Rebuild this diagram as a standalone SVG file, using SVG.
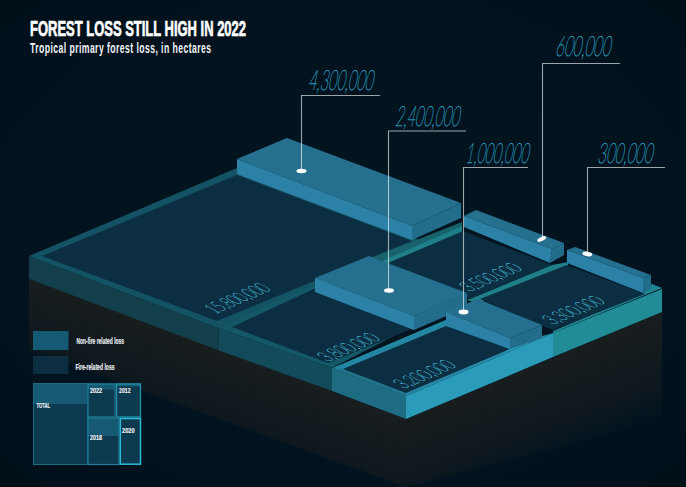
<svg xmlns="http://www.w3.org/2000/svg" width="686" height="487" viewBox="0 0 686 487">
<style>
text{font-family:"Liberation Sans Narrow","Liberation Sans",Arial,sans-serif}
.title{font-size:21.500px;font-weight:700;fill:#fff;stroke:#fff;stroke-width:.7}
.sub{font-size:14px;font-weight:700;fill:#f2f4f5}
.val{font-family:Lato,"Open Sans",sans-serif;font-weight:100;font-size:28px;fill:#2ba6c6;stroke:#2ba6c6;stroke-width:.55}
.plane{font-family:Lato,"Open Sans",sans-serif;font-weight:100;font-size:21px;fill:#46b8d0;stroke:#46b8d0;stroke-width:.42}
.leg{font-size:9px;font-weight:700;fill:#e8ecee;stroke:#e8ecee;stroke-width:.2}
.tm{font-size:8px;font-weight:700;fill:#f2f5f6;stroke:#f2f5f6;stroke-width:.15}
.panel{fill:#0c2e42}
.ftop{fill:#256f8f}.ffront{fill:#2c82a6}.fright{fill:#226c8c}
.lead{fill:none;stroke:#fff;stroke-opacity:.62;stroke-width:1.1}
.dot{fill:#fff}
.cellb{fill:#0e3a50}.cellt{fill:#155a72}
</style>
<defs>
<radialGradient id="bg" cx="50%" cy="50%" r="70%"><stop offset="0" stop-color="#03151f"/><stop offset=".7" stop-color="#02131f"/><stop offset="1" stop-color="#010f18"/></radialGradient>
<linearGradient id="shL" gradientUnits="userSpaceOnUse" x1="218" y1="350" x2="180" y2="450"><stop offset="0" stop-color="#181d1f"/><stop offset=".55" stop-color="#0e181e"/><stop offset="1" stop-color="#02131f" stop-opacity="0"/></linearGradient>
<linearGradient id="shR" gradientUnits="userSpaceOnUse" x1="534" y1="365" x2="575" y2="470"><stop offset="0" stop-color="#181d1f"/><stop offset=".55" stop-color="#0e181e"/><stop offset="1" stop-color="#02131f" stop-opacity="0"/></linearGradient>
</defs>
<rect width="686" height="487" fill="url(#bg)"/>
<g id="shadow">
<polygon points="29,279 406,419 406,487 29,350" fill="url(#shL)"/>
<polygon points="406,419 662,312 662,420 406,487" fill="url(#shR)"/>
</g>
<g id="base-sides">
<polygon points="29,256 218,328 218,350 29,279" fill="#123f4a"/>
<polygon points="218,328 332,368 332,391 218,350" fill="#134b5a"/>
<polygon points="332,368 406,396 406,419 332,391" fill="#1e6c81"/>
<polygon points="406,396 553,333 553,357 406,419" fill="#2a9cba"/>
<polygon points="553,333 662,289 662,312 553,357" fill="#218c96"/>
<line x1="218.500" y1="328" x2="218.500" y2="350" stroke="#0e3a45" stroke-width="1"/>
</g>
<g id="base-top">
<polygon points="29,256 237,168 420,240 218,328" fill="#135363"/>
<polygon points="218,328 372,257 467,298 332,368" fill="#145868"/>
<polygon points="373,257 462,222 462,232 388,264" fill="#17626c"/>
<polygon points="380,262 462,226 462,232 388,264" fill="#1f7f88"/>
<polygon points="333,368 446,320 510,345 553,333 406,396" fill="#2789a7"/>
<polygon points="333,368 446,320 446,326 343,369" fill="#2387a4"/>
<polygon points="332,368 343,369 406,393 406,396" fill="#20748a"/>
<polygon points="510,349 542,338 553,333 500,355" fill="#2a9cba"/>
<polygon points="553,331 643,293 652,284 662,288 553,333" fill="#1f8490"/>
<polygon points="467,300 552,265 568,262 568,266 486,298 480,304" fill="#1f7f88"/>
</g>
<g id="panel-15800000"><polygon class="panel" points="42,256 237,175 412,241 370,258 217,321"/></g>
<g id="panel-3800000"><polygon class="panel" points="232,327 372,262 430,320 412,329 328,363"/></g>
<g id="panel-3500000"><polygon class="panel" points="388,263 463,231 552,265 470,299"/></g>
<g id="panel-3200000"><polygon class="panel" points="343,369 446,326 510,349 406,393"/></g>
<g id="panel-3300000"><polygon class="panel" points="480,299 567,265 645,294 553,330 540,325"/></g>
<g id="block-4300000">
<polygon class="ftop" points="237,159 287,138 461,203 412,226"/>
<polygon class="ffront" points="237,159 412,226 412,240 237,174"/>
<polygon class="fright" points="412,226 461,203 461,218 412,240"/>
</g>
<g id="block-600000">
<polygon class="ftop" points="464,216 476,210 564,243 552,249"/>
<polygon class="ffront" points="464,216 552,249 550,263 464,227"/>
<polygon class="fright" points="552,249 564,243 564,255 550,263"/>
</g>
<g id="block-300000">
<polygon class="ftop" points="567,250 575,247 651,275 643,278"/>
<polygon class="ffront" points="567,250 643,278 643,293 567,263"/>
<polygon class="fright" points="643,278 651,275 651,288 643,293"/>
</g>
<g id="block-2400000">
<polygon class="ftop" points="315,278 369,256 467,293 414,316"/>
<polygon class="ffront" points="315,278 414,316 414,330 315,292"/>
<polygon class="fright" points="414,316 467,293 467,307 414,330"/>
</g>
<g id="block-1000000">
<polygon class="ftop" points="446,312 478,299 542,325 510,338"/>
<polygon class="ffront" points="446,312 510,338 510,349 446,325"/>
<polygon class="fright" points="510,338 542,325 542,338 510,349"/>
</g>
<g id="connectors">
<polyline class="lead" points="380,95.500 301.500,95.500 301.500,171"/>
<polyline class="lead" points="466,131 388.500,131 388.500,290"/>
<polyline class="lead" points="528,167.500 463.500,167.500 463.500,312"/>
<polyline class="lead" points="620,63.500 542.500,63.500 542.500,239"/>
<polyline class="lead" points="665,167.500 587.500,167.500 587.500,254"/>
<ellipse class="dot" cx="301.500" cy="171" rx="5" ry="2.200"/>
<ellipse class="dot" cx="389" cy="290.500" rx="5" ry="2.200"/>
<ellipse class="dot" cx="463.500" cy="312" rx="5" ry="2.400"/>
<ellipse class="dot" cx="541.700" cy="239" rx="4.800" ry="2" transform="rotate(-25 541.700 239)"/>
<ellipse class="dot" cx="587.300" cy="254" rx="5" ry="2.200" transform="rotate(10 587.300 254)"/>
</g>
<g id="values">
<text class="val" transform="translate(308 90) skewX(-11) scale(.53 1)" textLength="122" lengthAdjust="spacingAndGlyphs">4,300,000</text>
<text class="val" transform="translate(395 126) skewX(-11) scale(.53 1)" textLength="121" lengthAdjust="spacingAndGlyphs">2,400,000</text>
<text class="val" transform="translate(465 163) skewX(-11) scale(.53 1)" textLength="119" lengthAdjust="spacingAndGlyphs">1,000,000</text>
<text class="val" transform="translate(555 55.500) skewX(-11) scale(.53 1)" textLength="104" lengthAdjust="spacingAndGlyphs">600,000</text>
<text class="val" transform="translate(597 162.500) skewX(-11) scale(.53 1)" textLength="104" lengthAdjust="spacingAndGlyphs">300,000</text>
</g>
<g id="plane-labels">
<text class="plane" transform="matrix(.92 -.39 .88 .5 215 314)" textLength="62" lengthAdjust="spacingAndGlyphs">15,800,000</text>
<text class="plane" transform="matrix(.92 -.39 .88 .5 328 362)" textLength="58" lengthAdjust="spacingAndGlyphs">3,800,000</text>
<text class="plane" transform="matrix(.92 -.39 .88 .5 470 292)" textLength="58" lengthAdjust="spacingAndGlyphs">3,500,000</text>
<text class="plane" transform="matrix(.92 -.39 .88 .5 404 389)" textLength="58" lengthAdjust="spacingAndGlyphs">3,200,000</text>
<text class="plane" transform="matrix(.92 -.39 .88 .5 553 325)" textLength="58" lengthAdjust="spacingAndGlyphs">3,300,000</text>
</g>
<g id="heading">
<text class="title" x="30" y="36" textLength="216" lengthAdjust="spacingAndGlyphs">FOREST LOSS STILL HIGH IN 2022</text>
<text class="sub" transform="translate(30 53) scale(.62 1)" textLength="292" lengthAdjust="spacing">Tropical primary forest loss, in hectares</text>
</g>
<g id="legend">
<rect x="33" y="331" width="35.500" height="19" fill="#155a75"/>
<rect x="33" y="356" width="35.500" height="18" fill="#0c2e40"/>
<text class="leg" x="76.500" y="344" textLength="47.500" lengthAdjust="spacingAndGlyphs">Non-fire related loss</text>
<text class="leg" x="75.500" y="369.500" textLength="39" lengthAdjust="spacingAndGlyphs">Fire-related loss</text>
</g>
<g id="treemap">
<g id="cell-total"><rect class="cellb" x="33.500" y="383.500" width="54" height="81"/><rect class="cellt" x="33.500" y="383.500" width="54" height="20.500"/><rect x="33.500" y="383.500" width="54" height="81" fill="none" stroke="#1a6a82" stroke-width="1"/><text class="tm" x="36.500" y="408" textLength="13.500" lengthAdjust="spacingAndGlyphs">TOTAL</text></g>
<g id="cell-2022"><rect class="cellb" x="87.500" y="383.500" width="28" height="34"/><rect class="cellt" x="87.500" y="383.500" width="28" height="6"/><rect x="88" y="384" width="27" height="33" fill="none" stroke="#1e7f98" stroke-width="1.200"/><text class="tm" x="90" y="393" textLength="12" lengthAdjust="spacingAndGlyphs">2022</text></g>
<g id="cell-2012"><rect class="cellb" x="115.500" y="383.500" width="25.500" height="34"/><rect class="cellt" x="115.500" y="383.500" width="25.500" height="3"/><rect x="116.500" y="384" width="24" height="33" fill="none" stroke="#2295ad" stroke-width="1.300"/><text class="tm" x="119" y="393" textLength="11.500" lengthAdjust="spacingAndGlyphs">2012</text></g>
<g id="cell-2018"><rect class="cellb" x="87.500" y="417.500" width="32" height="47"/><rect class="cellt" x="87.500" y="417.500" width="32" height="18.500"/><rect x="88" y="418" width="31" height="46.500" fill="none" stroke="#1e7f98" stroke-width="1.200"/><text class="tm" x="90" y="440" textLength="12" lengthAdjust="spacingAndGlyphs">2018</text></g>
<g id="cell-2020"><rect class="cellb" x="119.500" y="418" width="21.500" height="46.500"/><rect x="120.300" y="418.500" width="20.200" height="45.700" fill="none" stroke="#2abad6" stroke-width="1.500"/><text class="tm" x="122" y="433" textLength="12.500" lengthAdjust="spacingAndGlyphs">2020</text></g>
</g>
</svg>
